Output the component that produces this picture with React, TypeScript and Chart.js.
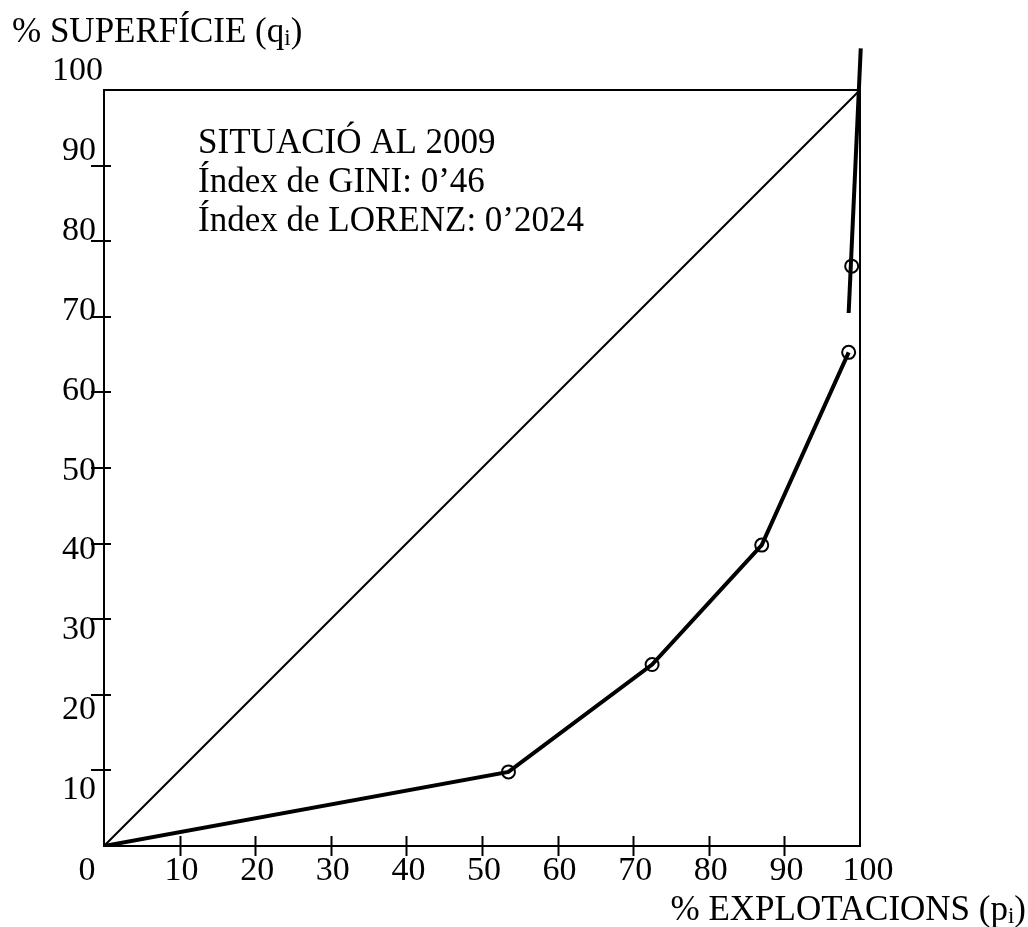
import React, { useEffect, useRef } from "react";
import { Chart, registerables } from "chart.js";

Chart.register(...registerables);

// ---- Data ----
const lorenzX = [0, 53.5, 72.5, 87, 98.5];
const lorenzY = [0, 9.8, 24, 39.8, 65.3];
const lorenzRadius = [0, 6.5, 6.5, 6.5, 6.5];
const extraPointX = [98.9];
const extraPointY = [76.7];
const steepX = [98.5, 100.1];
const steepY = [70.5, 105.5];
const equalityX = [0, 100];
const equalityY = [0, 100];
const xTickValues = [0, 10, 20, 30, 40, 50, 60, 70, 80, 90, 100];
const yTickValues = [10, 20, 30, 40, 50, 60, 70, 80, 90, 100];
const annotationLines = ["SITUACIÓ AL 2009", "Índex de GINI: 0’46", "Índex de LORENZ: 0’2024"];
const annotationAnchor = { x: 12.45, y: 91.7 };
const yTitleMain = "% SUPERFÍCIE (q";
const xTitleMain = "% EXPLOTACIONS (p";
const subscript = "i";

const toPts = (xs: number[], ys: number[]) => xs.map((x, i) => ({ x, y: ys[i] }));

const FONT = '"Liberation Serif", "Times New Roman", serif';

const decorPlugin = {
  id: "decor",
  beforeDatasetsDraw(chart: any) {
    const { ctx, chartArea: a, scales } = chart;
    const xs = scales.x;
    const ys = scales.y;
    ctx.save();
    ctx.strokeStyle = "#000";
    ctx.lineWidth = 2;
    ctx.lineCap = "butt";
    ctx.strokeRect(a.left, a.top, a.right - a.left, a.bottom - a.top);
    for (const v of xTickValues) {
      if (v === 0 || v === 100) continue;
      const px = Math.round(xs.getPixelForValue(v)) + 0.5;
      ctx.beginPath();
      ctx.moveTo(px, a.bottom - 10);
      ctx.lineTo(px, a.bottom + 10);
      ctx.stroke();
    }
    for (const v of yTickValues) {
      if (v === 100) continue;
      const py = Math.round(ys.getPixelForValue(v));
      ctx.beginPath();
      ctx.moveTo(a.left - 13, py);
      ctx.lineTo(a.left + 7, py);
      ctx.stroke();
    }
    ctx.restore();
  },
  afterDraw(chart: any) {
    const { ctx, chartArea: a, scales } = chart;
    const xs = scales.x;
    const ys = scales.y;
    ctx.save();
    ctx.fillStyle = "#000";

    ctx.font = `34px ${FONT}`;
    ctx.textAlign = "right";
    ctx.textBaseline = "alphabetic";
    const mid = ys.getPixelForValue(50);
    for (const v of yTickValues) {
      const center = mid + (ys.getPixelForValue(v) - mid) * 1.058;
      const xRight = v === 100 ? a.left - 1 : a.left - 8;
      ctx.fillText(String(v), xRight, center + 11.5);
    }

    ctx.textAlign = "center";
    for (const v of xTickValues) {
      let dx = 2;
      if (v === 0) dx = -17;
      if (v === 100) dx = 8;
      ctx.fillText(String(v), xs.getPixelForValue(v) + dx, a.bottom + 33.5);
    }

    ctx.font = `35px ${FONT}`;
    ctx.textAlign = "left";
    const ax = xs.getPixelForValue(annotationAnchor.x);
    const ay = ys.getPixelForValue(annotationAnchor.y);
    annotationLines.forEach((line, i) => {
      ctx.fillText(line, ax, ay + i * 39);
    });

    const drawTitle = (main: string, x: number, y: number, alignRight: boolean) => {
      ctx.font = `35px ${FONT}`;
      const wMain = ctx.measureText(main).width;
      const wClose = ctx.measureText(")").width;
      ctx.font = `23px ${FONT}`;
      const wSub = ctx.measureText(subscript).width;
      const total = wMain + wSub + wClose;
      let sx = alignRight ? x - total : x;
      ctx.textAlign = "left";
      ctx.font = `35px ${FONT}`;
      ctx.fillText(main, sx, y);
      sx += wMain;
      ctx.font = `23px ${FONT}`;
      ctx.fillText(subscript, sx, y + 3);
      sx += wSub;
      ctx.font = `35px ${FONT}`;
      ctx.fillText(")", sx, y);
    };
    drawTitle(yTitleMain, 12, 42, false);
    drawTitle(xTitleMain, 1026, 920, true);

    ctx.restore();
  },
};

export default function App() {
  const canvasRef = useRef<HTMLCanvasElement | null>(null);

  useEffect(() => {
    const canvas = canvasRef.current;
    if (!canvas) return;
    const chart = new Chart(canvas, {
      type: "scatter",
      data: {
        datasets: [
          {
            data: toPts(equalityX, equalityY),
            showLine: true,
            borderColor: "#000",
            borderWidth: 2,
            pointRadius: 0,
          },
          {
            data: toPts(lorenzX, lorenzY),
            showLine: true,
            borderColor: "#000",
            borderWidth: 4,
            pointRadius: lorenzRadius,
            pointBorderWidth: 2,
            pointBorderColor: "#000",
            pointBackgroundColor: "rgba(0,0,0,0)",
          },
          {
            data: toPts(extraPointX, extraPointY),
            showLine: false,
            pointRadius: 6.5,
            pointBorderWidth: 2,
            pointBorderColor: "#000",
            pointBackgroundColor: "rgba(0,0,0,0)",
          },
          {
            data: toPts(steepX, steepY),
            showLine: true,
            borderColor: "#000",
            borderWidth: 4,
            pointRadius: 0,
            clip: false as any,
          },
        ],
      },
      options: {
        responsive: false,
        animation: false,
        events: [],
        layout: { padding: { left: 104, top: 90, right: 168, bottom: 81 } },
        plugins: {
          legend: { display: false },
          tooltip: { enabled: false },
        },
        scales: {
          x: { type: "linear", min: 0, max: 100, display: false },
          y: { type: "linear", min: 0, max: 100, display: false },
        },
      },
      plugins: [decorPlugin],
    });
    return () => chart.destroy();
  }, []);

  return (
    <div style={{ position: "absolute", left: 0, top: 0, width: 1028, height: 927, background: "#fff" }}>
      <canvas ref={canvasRef} width={1028} height={927} style={{ display: "block" }} />
    </div>
  );
}
